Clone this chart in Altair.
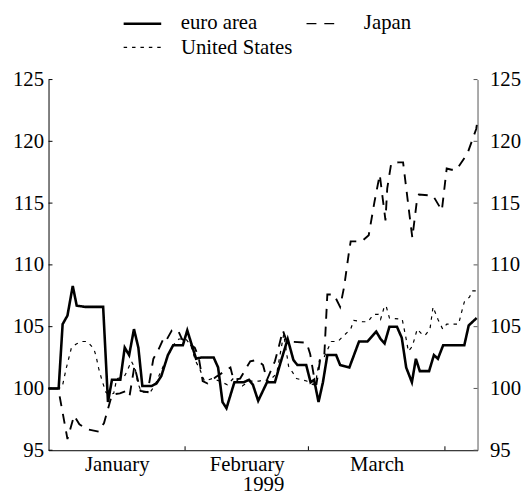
import altair as alt
import pandas as pd

euro_day = [0, 2.3, 3.2, 4.3, 5.5, 6.4, 8.3, 12.4, 13.5, 14.4, 16.3, 17.3, 18.3, 19.4, 20.4, 21.3,
            23.4, 24.5, 25.6, 27.1, 28.3, 30.5, 31.5, 33.5, 34.6, 37.5, 38.5, 39.5, 40.4, 42.2, 44.3,
            45.5, 46.4, 47.6, 49.6, 51.4, 52.6, 54.3, 55.6, 56.5, 58.5, 59.5, 60.3, 61.3, 62.3, 63.3,
            65.3, 66.2, 68.3, 70.5, 72.4, 74.4, 75.4, 76.3, 77.4, 79.1, 80.2, 81.2, 82.5, 83.4, 84.3,
            86.4, 87.5, 88.4, 89.6, 94.4, 95.4, 97.2]
euro_val = [100, 100, 105.2, 105.9, 108.3, 106.7, 106.6, 106.6, 98.9, 100.7, 100.7, 103.3, 102.7, 104.8,
            103.3, 100.2, 100.2, 100.4, 101.0, 102.7, 103.5, 103.5, 104.7, 102.4, 102.5, 102.5, 101.7,
            98.9, 98.4, 100.5, 100.5, 100.7, 100.3, 99.0, 100.5, 100.5, 102.0, 104.0, 102.3, 101.9,
            101.9, 100.5, 100.7, 98.9, 100.5, 102.7, 102.7, 101.9, 101.7, 103.8, 103.8, 104.6, 104.0,
            103.65, 105.0, 105.0, 104.1, 101.7, 100.5, 102.4, 101.4, 101.4, 102.7, 102.4, 103.5, 103.5,
            105.1, 105.7]

japan_day = [0, 2.2, 4.3, 5.8, 7.0, 8.8, 11.4, 12.6, 14.4, 16.2, 17.7, 18.4, 19.5, 20.9, 22.5, 23.8,
             24.9, 26.3, 26.9, 28.0, 29.4, 30.3, 33.2, 34.1, 35.0, 36.1, 37.9, 41.3, 42.0, 43.5, 45.8,
             47.3, 48.7, 49.6, 51.4, 52.3, 53.2, 54.1, 58.6, 59.4, 60.3, 60.8, 61.7, 62.6, 63.3, 64.8,
             66.2, 67.1, 68.2, 68.6, 71.1, 72.7, 74.0, 75.2, 76.5, 76.9, 77.8, 79.4, 80.5, 81.9, 82.6,
             83.7, 84.1, 87.3, 89.3, 90.4, 91.5, 92.6, 95.1, 97.1, 97.4]
japan_val = [100, 100, 95.9, 97.8, 97.1, 96.7, 96.5, 97.2, 99.5, 99.6, 99.8, 99.4, 101.8, 99.8, 99.7,
             102.4, 103.1, 104.2, 104.0, 104.7, 104.7, 104.0, 103.3, 102.5, 100.6, 100.4, 100.9, 101.7,
             100.7, 100.8, 102.2, 102.3, 101.9, 100.7, 102.2, 103.4, 104.7, 103.8, 103.7, 102.8, 100.9,
             100.3, 102.4, 102.6, 107.6, 107.6, 106.6, 108.2, 111.0, 111.9, 111.9, 112.4, 115.1, 117.3,
             113.6, 116.2, 118.2, 118.3, 118.3, 114.2, 112.2, 115.4, 115.7, 115.6, 114.4, 117.8, 117.7,
             117.7, 119.0, 121.0, 121.7]

us_day = [0, 2.2, 3.1, 4.0, 5.2, 6.3, 7.6, 8.8, 10.3, 10.8, 11.4, 12.1, 13.0, 13.7, 14.8, 15.5, 17.1,
          17.7, 18.8, 19.7, 20.2, 21.1, 23.1, 24.2, 25.4, 27.1, 28.3, 29.6, 31.2, 32.3, 33.4, 34.3,
          35.4, 37.2, 38.8, 40.6, 42.2, 44.0, 45.5, 47.8, 49.1, 50.0, 51.8, 53.4, 54.5, 55.6, 56.3,
          58.6, 60.1, 60.8, 61.5, 62.4, 64.2, 65.7, 67.1, 68.6, 69.3, 71.3, 72.5, 73.8, 74.9, 75.4,
          76.3, 76.7, 77.4, 80.3, 81.2, 81.7, 82.6, 83.7, 85.0, 85.5, 86.6, 87.3, 88.4, 89.5, 90.4,
          93.1, 93.8, 94.4, 95.6, 96.2, 97.4]
us_val = [100, 100, 100.1, 101.6, 103.3, 103.6, 103.8, 103.8, 103.2, 102.6, 101.6, 100.7, 99.7, 99.5,
          99.6, 100.8, 100.9, 101.3, 102.2, 101.6, 100.5, 99.7, 99.7, 100.3, 101.3, 102.6, 103.5,
          104.0, 104.0, 103.5, 102.2, 101.6, 100.6, 100.8, 100.6, 100.3, 100.9, 100.2, 100.6, 100.6,
          100.7, 100.6, 101.2, 104.4, 101.8, 101.2, 100.8, 100.6, 100.3, 100.8, 102.3, 102.4, 103.8,
          103.8, 104.3, 104.8, 105.5, 105.4, 105.4, 106.0, 106.0, 105.6, 106.7, 106.6, 105.7, 105.6,
          104.0, 103.0, 103.4, 104.8, 104.3, 104.3, 104.8, 106.6, 105.6, 104.8, 105.2, 105.2, 106.2,
          107.0, 107.4, 107.9, 107.9]

series_names = ["euro area", "Japan", "United States"]
month_labels = ["January", "February", "March"]
month_mid = [15.5, 45, 74.5]
month_start = [31, 59, 90]
y_ticks = [95, 100, 105, 110, 115, 120, 125]
year_label = "1999"

frames = []
for name, d, v in [(series_names[0], euro_day, euro_val),
                   (series_names[1], japan_day, japan_val),
                   (series_names[2], us_day, us_val)]:
    frames.append(pd.DataFrame({"day": d, "value": v, "series": name}))
df = pd.concat(frames, ignore_index=True)

W, H = 434, 375
FONT = "Liberation Serif"
FS = 21

xs = alt.Scale(domain=[0, 97.4], nice=False, zero=False)
ys = alt.Scale(domain=[95, 125], nice=False, zero=False)

expr = "'" + month_labels[-1] + "'"
for b, lab in reversed(list(zip(month_start[:-1], month_labels[:-1]))):
    expr = f"datum.value < {b} ? '{lab}' : " + expr

dash_range = [[1, 0], [10, 8], [3.5, 5]]
width_range = [2.6, 1.2, 1.2]

lines = alt.Chart(df).mark_line(color="black", strokeJoin="miter").encode(
    x=alt.X("day:Q", scale=xs,
            axis=alt.Axis(values=month_mid, labelExpr=expr, ticks=False, grid=False,
                          domainColor="black", labelPadding=4, labelAngle=0,
                          title=year_label, titlePadding=-1)),
    y=alt.Y("value:Q", scale=ys,
            axis=alt.Axis(orient="left", values=y_ticks, ticks=False, grid=False,
                          domainColor="black", labelPadding=5, title=None)),
    detail="series:N",
    strokeDash=alt.StrokeDash("series:N", scale=alt.Scale(domain=series_names, range=dash_range),
                              legend=None),
    strokeWidth=alt.StrokeWidth("series:N", scale=alt.Scale(domain=series_names, range=width_range),
                                legend=None),
)

ytick_df = pd.DataFrame({"v": y_ticks})
left_ticks = alt.Chart(ytick_df).mark_rule(color="black", strokeWidth=1).encode(
    y=alt.Y("v:Q", scale=ys, axis=None),
    x=alt.value(0), x2=alt.value(4),
)
right_ticks = alt.Chart(ytick_df).mark_rule(color="#555555", strokeWidth=1).encode(
    y=alt.Y("v:Q", scale=ys,
            axis=alt.Axis(orient="right", values=y_ticks, ticks=False, grid=False,
                          domainColor="#555555", labelPadding=12, title=None)),
    x=alt.value(W - 4), x2=alt.value(W),
)

xtick_df = pd.DataFrame({"d": month_start})
x_ticks = alt.Chart(xtick_df).mark_rule(color="black", strokeWidth=1).encode(
    x=alt.X("d:Q", scale=xs),
    y=alt.value(H), y2=alt.value(H - 4),
)

legend_layers = []
leg_pos = [(76, 114, -56.5, 133.7, -50.8), (261, 294, -56.5, 319, -50.8), (76, 114, -32.5, 134, -25.5)]
for i, name in enumerate(series_names):
    x0, x1, ly, tx, ty = leg_pos[i]
    ldf = pd.DataFrame({"label": [name]})
    legend_layers.append(
        alt.Chart(ldf).mark_rule(color="black", strokeWidth=width_range[i], strokeDash=dash_range[i]).encode(
            x=alt.value(x0), x2=alt.value(x1), y=alt.value(ly))
    )
    legend_layers.append(
        alt.Chart(ldf).mark_text(align="left", baseline="alphabetic", font=FONT, fontSize=FS,
                                 color="black").encode(
            text="label:N", x=alt.value(tx), y=alt.value(ty))
    )

chart = alt.layer(lines, left_ticks, right_ticks, x_ticks, *legend_layers).resolve_scale(
    y="independent"
).properties(
    width=W, height=H,
    autosize=alt.AutoSizeParams(type="none"),
    padding={"left": 41, "top": 69.5, "right": 46, "bottom": 50},
).configure(font=FONT).configure_view(stroke=None).configure_axis(
    labelFont=FONT, labelFontSize=FS, labelColor="black",
    titleFont=FONT, titleFontSize=FS, titleFontWeight="normal", titleColor="black",
    domainWidth=1,
).configure_text(font=FONT)

chart.save("out.html", embed_options={"renderer": "svg", "actions": False})
